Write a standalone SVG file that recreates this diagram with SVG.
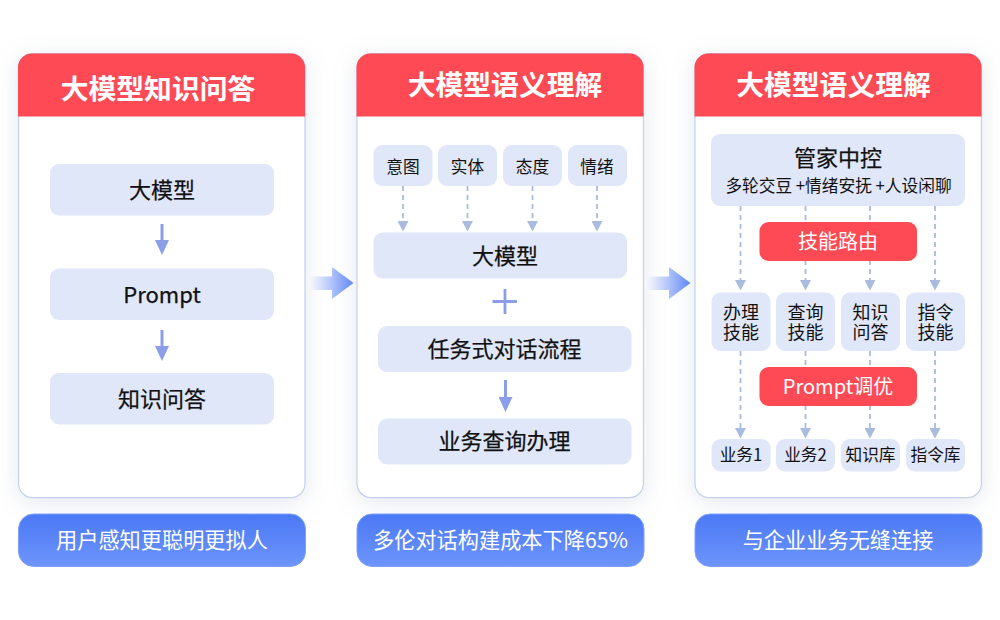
<svg xmlns="http://www.w3.org/2000/svg" width="1000" height="620" viewBox="0 0 1000 620">
<defs>
<style>
text{font-family:"Noto Sans CJK SC","Noto Sans",sans-serif;text-anchor:middle;fill:#111}
.card{fill:#fff;stroke:#c3d0ee;stroke-width:1.2}
.hd{fill:#fe4a55}
.n{fill:#e0e7f9}
.r{fill:#fe4a55}
.ttl{font-size:27.8px;font-weight:700;fill:#fff}
.t22{font-size:22px;font-weight:400;stroke:#111;stroke-width:.25}
.t17{font-size:16.7px}
.t18{font-size:18px}
.rt{font-size:20px;fill:#fff;font-weight:400}
.bt{font-size:21.2px;fill:#fff}
.dash{stroke:#a9bbdf;stroke-width:1.8;stroke-dasharray:5 4;fill:none}
.sol{stroke:#8a9fe8;stroke-width:3;fill:none}
.pl{stroke:#7fa0f8;stroke-width:1}
</style>
<linearGradient id="pill" x1="0" y1="0" x2="0" y2="1"><stop offset="0" stop-color="#4b78f5"/><stop offset="1" stop-color="#6d95fb"/></linearGradient>
<linearGradient id="big1" gradientUnits="userSpaceOnUse" x1="310" y1="0" x2="354" y2="0"><stop offset="0" stop-color="#5f86f5" stop-opacity="0"/><stop offset="1" stop-color="#5f86f5"/></linearGradient>
<linearGradient id="big2" gradientUnits="userSpaceOnUse" x1="647" y1="0" x2="691" y2="0"><stop offset="0" stop-color="#5f86f5" stop-opacity="0"/><stop offset="1" stop-color="#5f86f5"/></linearGradient>
<filter id="sh" x="-15%" y="-10%" width="130%" height="120%"><feDropShadow dx="0" dy="4" stdDeviation="11" flood-color="#8c9ab8" flood-opacity="0.24"/></filter>
<marker id="dh" markerUnits="userSpaceOnUse" markerWidth="11" markerHeight="11" refX="0" refY="5.500" orient="auto"><path d="M0 0L10.500 5.500L0 11Z" fill="#a9bbdf"/></marker>
<marker id="sh2" markerUnits="userSpaceOnUse" markerWidth="15" markerHeight="14" refX="0" refY="7" orient="auto"><path d="M0 0L15 7L0 14Z" fill="#8a9fe8"/></marker>
</defs>
<rect width="1000" height="620" fill="#fff"/>

<g id="card1">
<rect class="card" x="18.600" y="53.600" width="286.400" height="444" rx="14" filter="url(#sh)"/>
<path class="hd" d="M18 116.500V68a14 14 0 0 1 14-14.500H291a14 14 0 0 1 14 14.500V116.500Z"/>
<text class="ttl" x="158" y="99">大模型知识问答</text>
</g>
<g id="card2">
<rect class="card" x="357" y="53.600" width="286.400" height="444" rx="14" filter="url(#sh)"/>
<path class="hd" d="M356.500 116.500V68a14 14 0 0 1 14-14.500H629.500a14 14 0 0 1 14 14.500V116.500Z"/>
<text class="ttl" x="505" y="95">大模型语义理解</text>
</g>
<g id="card3">
<rect class="card" x="695" y="53.600" width="286.400" height="444" rx="14" filter="url(#sh)"/>
<path class="hd" d="M694.500 116.500V68a14 14 0 0 1 14-14.500H967.500a14 14 0 0 1 14 14.500V116.500Z"/>
<text class="ttl" x="833.500" y="95">大模型语义理解</text>
</g>

<g id="connectors">
<path class="sol" marker-end="url(#sh2)" d="M162 224V240"/>
<path class="sol" marker-end="url(#sh2)" d="M162 330V346"/>
<path class="sol" marker-end="url(#sh2)" d="M505.500 380V397"/>
<path d="M505 289V314M492.500 301.500H517" stroke="#8a9fe8" stroke-width="2.800" fill="none"/>
<g class="dash">
<path marker-end="url(#dh)" d="M403 186V221"/>
<path marker-end="url(#dh)" d="M467.500 186V221"/>
<path marker-end="url(#dh)" d="M532.500 186V221"/>
<path marker-end="url(#dh)" d="M597 186V221"/>
<path marker-end="url(#dh)" d="M740.500 206V280"/>
<path marker-end="url(#dh)" d="M805.500 206V280"/>
<path marker-end="url(#dh)" d="M870 206V280"/>
<path marker-end="url(#dh)" d="M935 206V280"/>
<path marker-end="url(#dh)" d="M740.500 351V428"/>
<path marker-end="url(#dh)" d="M805.500 351V428"/>
<path marker-end="url(#dh)" d="M870 351V428"/>
<path marker-end="url(#dh)" d="M935 351V428"/>
</g>
<path fill="url(#big1)" d="M310 276.500H332V267L353.500 283L332 299V290H310Z"/>
<path fill="url(#big2)" d="M647 276.500H669V267L690.500 283L669 299V290H647Z"/>
</g>

<g id="n1"><rect class="n" x="50" y="164" width="224" height="51.500" rx="9"/><text class="t22" x="162" y="198">大模型</text></g>
<g id="n2"><rect class="n" x="50" y="268.500" width="224" height="51.500" rx="9"/><text class="t22" x="162" y="303">Prompt</text></g>
<g id="n3"><rect class="n" x="50" y="373" width="224" height="51.500" rx="9"/><text class="t22" x="162" y="407">知识问答</text></g>

<g id="a1"><rect class="n" x="373.500" y="145" width="59" height="41" rx="9"/><text class="t17" x="403" y="172.500">意图</text></g>
<g id="a2"><rect class="n" x="438" y="145" width="59" height="41" rx="9"/><text class="t17" x="467.500" y="172.500">实体</text></g>
<g id="a3"><rect class="n" x="503" y="145" width="59" height="41" rx="9"/><text class="t17" x="532.500" y="172.500">态度</text></g>
<g id="a4"><rect class="n" x="568" y="145" width="59" height="41" rx="9"/><text class="t17" x="597" y="172.500">情绪</text></g>
<g id="b1"><rect class="n" x="373.500" y="232.500" width="253.500" height="46" rx="9"/><text class="t22" x="505" y="264">大模型</text></g>
<g id="b2"><rect class="n" x="378" y="326" width="253.500" height="46" rx="9"/><text class="t22" x="504.500" y="356.500">任务式对话流程</text></g>
<g id="b3"><rect class="n" x="378" y="418.500" width="253.500" height="46" rx="9"/><text class="t22" x="504.500" y="449">业务查询办理</text></g>

<g id="c0"><rect class="n" x="711" y="134" width="254" height="72" rx="9"/><text class="t22" x="838" y="166">管家中控</text><text class="t17" x="838.500" y="192">多轮交豆 +情绪安抚 +人设闲聊</text></g>
<g id="c1"><rect class="r" x="759.500" y="222" width="157.500" height="39" rx="9"/><text class="rt" x="838" y="248.500">技能路由</text></g>
<g id="d1"><rect class="n" x="711.500" y="292.500" width="59" height="58.500" rx="9"/><text class="t18" x="741" y="319">办理</text><text class="t18" x="741" y="339">技能</text></g>
<g id="d2"><rect class="n" x="776" y="292.500" width="59" height="58.500" rx="9"/><text class="t18" x="805.500" y="319">查询</text><text class="t18" x="805.500" y="339">技能</text></g>
<g id="d3"><rect class="n" x="841" y="292.500" width="59" height="58.500" rx="9"/><text class="t18" x="870.500" y="319">知识</text><text class="t18" x="870.500" y="339">问答</text></g>
<g id="d4"><rect class="n" x="906" y="292.500" width="59" height="58.500" rx="9"/><text class="t18" x="935.500" y="319">指令</text><text class="t18" x="935.500" y="339">技能</text></g>
<g id="c2"><rect class="r" x="759.500" y="367" width="157.500" height="39" rx="9"/><text class="rt" x="838" y="393.500">Prompt调优</text></g>
<g id="e1"><rect class="n" x="711.500" y="439" width="59" height="32.500" rx="9"/><text class="t17" x="741" y="461">业务1</text></g>
<g id="e2"><rect class="n" x="776" y="439" width="59" height="32.500" rx="9"/><text class="t17" x="805.500" y="461">业务2</text></g>
<g id="e3"><rect class="n" x="841" y="439" width="59" height="32.500" rx="9"/><text class="t17" x="870.500" y="461">知识库</text></g>
<g id="e4"><rect class="n" x="906" y="439" width="59" height="32.500" rx="9"/><text class="t17" x="935.500" y="461">指令库</text></g>

<g id="p1"><rect class="pl" fill="url(#pill)" x="18.500" y="514" width="287" height="52.500" rx="15"/><text class="bt" x="162" y="547.500">用户感知更聪明更拟人</text></g>
<g id="p2"><rect class="pl" fill="url(#pill)" x="357" y="514" width="287" height="52.500" rx="15"/><text class="bt" x="500.500" y="547.500">多伦对话构建成本下降65%</text></g>
<g id="p3"><rect class="pl" fill="url(#pill)" x="695" y="514" width="287" height="52.500" rx="15"/><text class="bt" x="838" y="547.500">与企业业务无缝连接</text></g>
</svg>
